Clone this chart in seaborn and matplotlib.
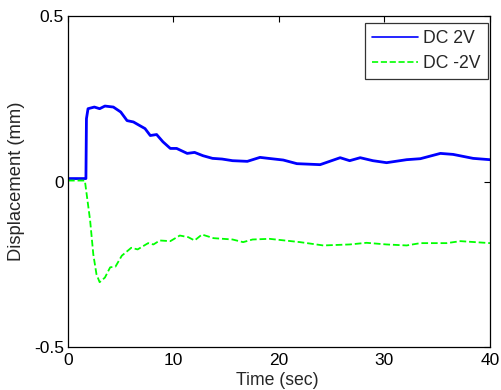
import matplotlib
matplotlib.use('Agg')
import matplotlib.pyplot as plt
import seaborn as sns

# Displacement readings, DC 2V (blue, solid)
time_pos = [0, 1.7, 1.75, 1.9, 2.5, 3.0, 3.5, 4.3, 5.0, 5.6, 6.2, 6.8, 7.3, 7.8, 8.4,
            9.0, 9.7, 10.3, 11.3, 12.0, 12.8, 13.7, 14.6, 15.6, 17.0, 18.2, 19.0,
            20.4, 21.7, 23.9, 25.8, 26.7, 27.7, 28.9, 30.2, 32.1, 33.4, 35.3, 36.5,
            38.4, 40]
disp_pos = [0.009, 0.009, 0.19, 0.22, 0.225, 0.22, 0.228, 0.225, 0.21, 0.184, 0.18,
            0.169, 0.16, 0.139, 0.142, 0.12, 0.10, 0.10, 0.085, 0.088, 0.078, 0.07,
            0.068, 0.063, 0.061, 0.073, 0.07, 0.065, 0.054, 0.051, 0.072, 0.063,
            0.072, 0.063, 0.057, 0.066, 0.069, 0.085, 0.082, 0.07, 0.066]

# Displacement readings, DC -2V (green, dashed)
time_neg = [0, 1.6, 2.1, 2.4, 2.7, 3.0, 3.5, 4.0, 4.5, 5.1, 6.0, 6.6, 7.6, 8.1, 8.7,
            9.7, 10.6, 11.4, 12.0, 12.7, 13.8, 15.6, 16.6, 17.5, 19.1, 22.0, 24.2,
            26.7, 28.3, 30.2, 32.1, 33.4, 35.9, 37.2, 40]
disp_neg = [0.003, 0.003, -0.118, -0.22, -0.28, -0.304, -0.29, -0.259, -0.257, -0.224,
            -0.20, -0.205, -0.186, -0.19, -0.178, -0.18, -0.163, -0.168, -0.178, -0.16,
            -0.171, -0.175, -0.183, -0.175, -0.173, -0.183, -0.193, -0.19, -0.185,
            -0.19, -0.193, -0.186, -0.186, -0.18, -0.186]

x_ticks = [0, 10, 20, 30, 40]
y_ticks = [-0.5, 0, 0.5]
y_tick_labels = ['-0.5', '0', '0.5']

sns.set_style('white')
plt.rcParams['font.family'] = ['Liberation Sans', 'DejaVu Sans']

fig = plt.figure(figsize=(5.01, 3.9), dpi=100)
ax = fig.add_axes([0.1357, 0.110, 0.8423, 0.849])

sns.lineplot(x=time_pos, y=disp_pos, ax=ax, sort=False, color='#0000ff',
             linewidth=2.0, label='DC 2V')
sns.lineplot(x=time_neg, y=disp_neg, ax=ax, sort=False, color='#00ff00',
             linewidth=1.3, linestyle='--', dashes=(3, 2), label='DC -2V')

ax.set_xlim(0, 40)
ax.set_ylim(-0.5, 0.5)
ax.set_xticks(x_ticks)
ax.set_yticks(y_ticks)
ax.set_yticklabels(y_tick_labels)
ax.tick_params(direction='in', length=4, width=0.8, top=True, right=True,
               labelsize=12.5, colors='black')
ax.tick_params(axis='x', pad=4)
ax.tick_params(axis='y', pad=3)

for side in ax.spines.values():
    side.set_color('black')
    side.set_linewidth(0.9)

ax.set_xlabel('Time (sec)', fontsize=12.7)
ax.set_ylabel('Displacement (mm)', fontsize=13.2)
ax.xaxis.set_label_coords(0.495, -0.075)
ax.yaxis.set_label_coords(-0.102, 0.5)

leg = ax.legend(loc='upper right', bbox_to_anchor=(488 / 501, 1 - 23 / 390),
                bbox_transform=fig.transFigure, borderaxespad=0,
                fontsize=12.7, frameon=True, fancybox=False, edgecolor='black',
                handlelength=2.6, handletextpad=0.3, labelspacing=0.45,
                borderpad=0.4)
leg.get_frame().set_linewidth(0.9)
# thinner handle lines, as in the reference legend
for handle in leg.get_lines():
    handle.set_linewidth(1.2)

fig.savefig('out.png', dpi=100)
